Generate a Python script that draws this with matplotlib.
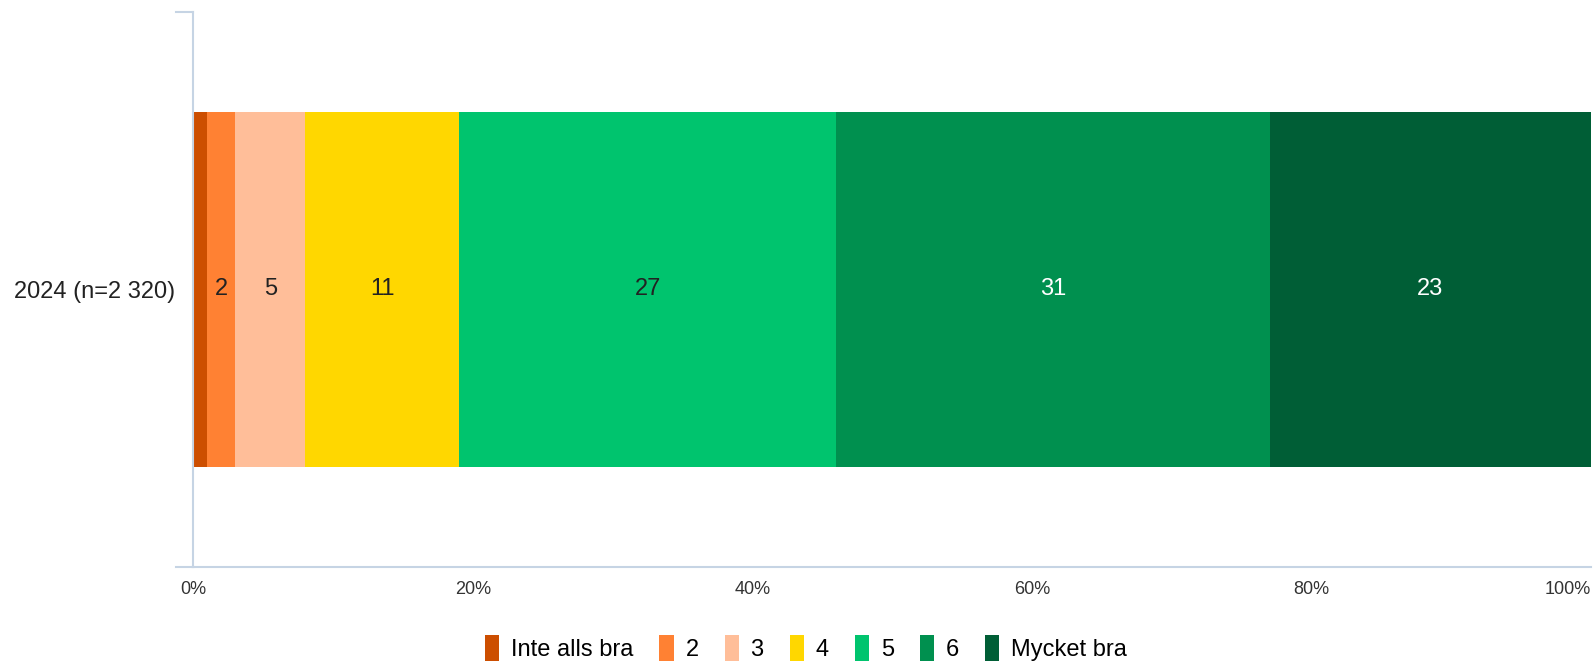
import matplotlib.pyplot as plt
from matplotlib.patches import Patch

plt.rcParams['font.family'] = ['Liberation Sans', 'DejaVu Sans']

# --- data ---
category = '2024 (n=2 320)'
labels = ['Inte alls bra', '2', '3', '4', '5', '6', 'Mycket bra']
values = [1, 2, 5, 11, 27, 31, 23]
show_label = [False, True, True, True, True, True, True]
colors = ['#CC4E00', '#FF8133', '#FFBE99', '#FFD700', '#00C46E', '#00904F', '#005E36']
text_colors = ['#222222', '#222222', '#222222', '#222222', '#222222', 'white', 'white']
xticks = [0, 20, 40, 60, 80, 100]

fig = plt.figure(figsize=(15.96, 6.65), dpi=100)
ax = fig.add_axes([0.1212, 0.1474, 0.8757, 0.8346])

left = 0
for lab, v, c, tc, show in zip(labels, values, colors, text_colors, show_label):
    ax.barh(0, v, left=left, height=0.64, color=c, edgecolor='none')
    if show:
        ax.text(left + v / 2, 0, str(v), ha='center', va='center',
                fontsize=17, color=tc)
    left += v

ax.set_xlim(0, 100)
ax.set_ylim(-0.5, 0.5)
ax.set_xticks(xticks)
ax.set_xticklabels([f'{t}%' for t in xticks], fontsize=13, color='#333333')
# last label kept inside the figure, right edge at axis end
ax.get_xticklabels()[-1].set_horizontalalignment('right')
ax.tick_params(axis='x', length=0, pad=10)
ax.set_yticks([0])
ax.set_yticklabels([category], fontsize=17, color='#222222')
ax.tick_params(axis='y', length=0, pad=13)

for s in ['top', 'right']:
    ax.spines[s].set_visible(False)
axis_col = '#C6D4E4'
ax.spines['left'].set_color(axis_col)
ax.spines['bottom'].set_color(axis_col)
ax.spines['left'].set_linewidth(1.5)
ax.spines['bottom'].set_linewidth(1.5)
# category boundary ticks
ax.plot([-1.25, 0], [0.5, 0.5], color=axis_col, lw=1.5, clip_on=False)
ax.plot([-1.25, 0], [-0.5, -0.5], color=axis_col, lw=1.5, clip_on=False)

handles = [Patch(facecolor=c, edgecolor='none', label=l) for l, c in zip(labels, colors)]
fig.legend(handles=handles, loc='center', bbox_to_anchor=(0.505, 0.025), ncol=7,
           frameon=False, fontsize=17, handlelength=0.6, handleheight=1.3,
           handletextpad=0.5, columnspacing=1.1)

fig.savefig('out.png', dpi=100)
